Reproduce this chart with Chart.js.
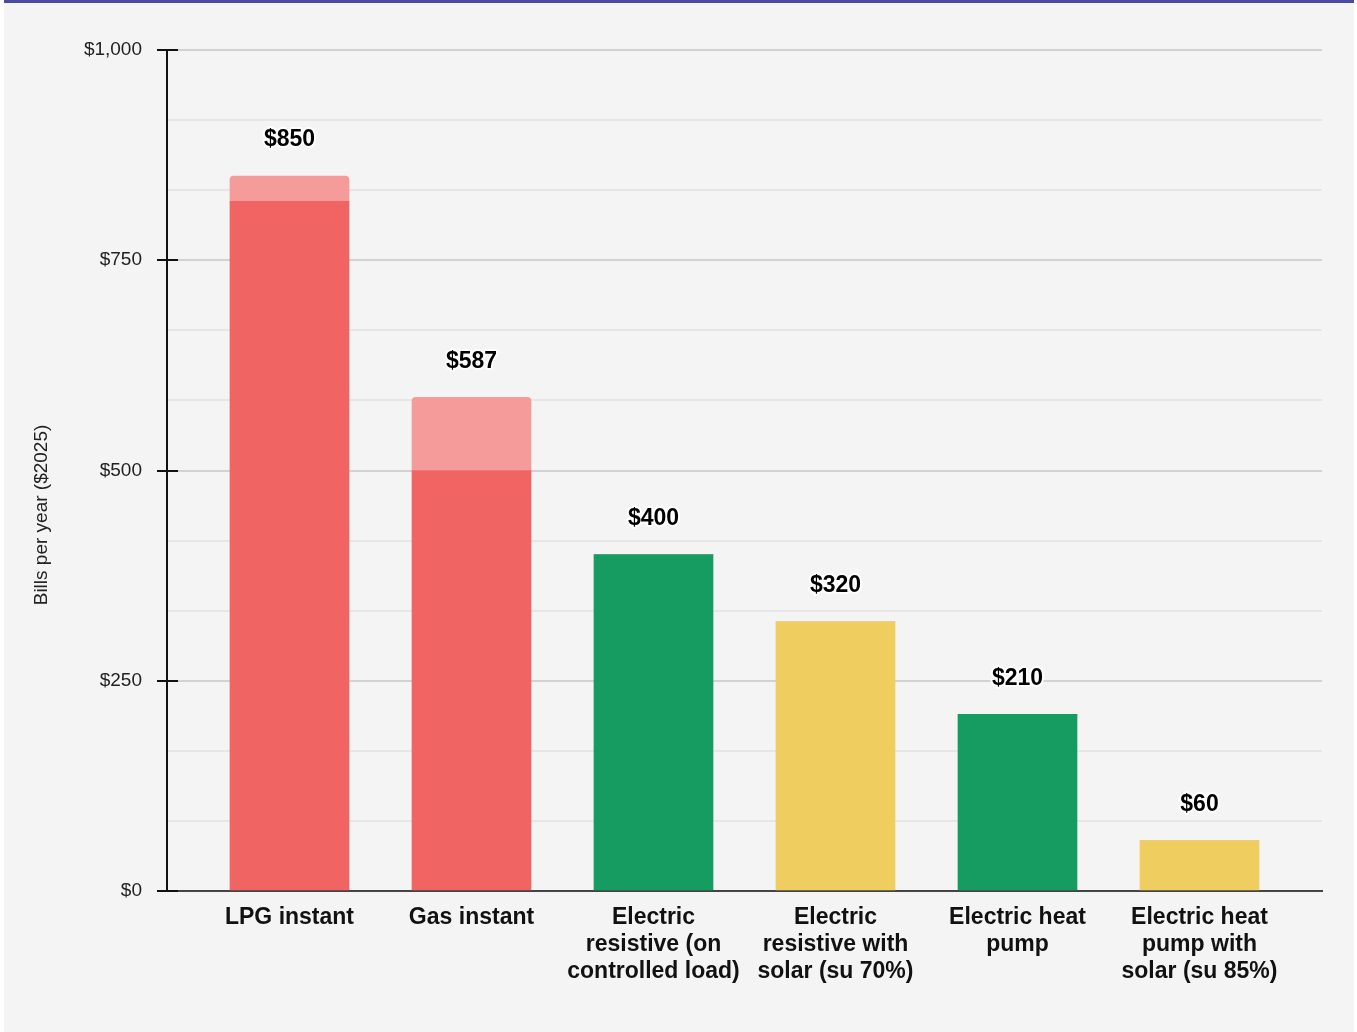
<!DOCTYPE html>
<html>
<head>
<meta charset="utf-8">
<script src="https://cdn.jsdelivr.net/npm/chart.js@4/dist/chart.umd.min.js"></script>
<style>
  html, body { margin: 0; padding: 0; background: #ffffff; }
  .chart-box {
    position: absolute; left: 4px; top: 0; width: 1350px; height: 1032px;
    background: #f4f4f4; border-top: 3px solid #4a4aa3; box-sizing: border-box;
  }
  .chart-box canvas { display: block; }
</style>
</head>
<body>
<div class="chart-box"><canvas id="myChart"></canvas></div>
<script>
// ---- data ----
var categories = [
    'LPG instant',
    'Gas instant',
    ['Electric', 'resistive (on', 'controlled load)'],
    ['Electric', 'resistive with', 'solar (su 70%)'],
    ['Electric heat', 'pump'],
    ['Electric heat', 'pump with', 'solar (su 85%)']
];
var baseBills  = [820, 500, 400, 320, 210, 60];
var extraBills = [30, 87, 0, 0, 0, 0];
var barColors  = ['#f06563', '#f06563', '#169c60', '#efcd5e', '#169c60', '#efcd5e'];
var yTickLabels = [0, 250, 500, 750, 1000];

var RED_LIGHT = '#f59b9a';
var EDGE = 31.5 / 182;   // empty room left/right of the bars, in category units

function toPoints(arr){
    return arr.map(function(v, i){ return {x: i, y: v}; });
}
function isMajor(v){
    return yTickLabels.some(function(t){ return Math.abs(t - v) < 0.01; });
}

// ---- plugins ----
var yTitlePlugin = {
    id: 'yTitle',
    afterDraw: function(chart){
        var ctx = chart.ctx;
        ctx.save();
        ctx.translate(38, 512);
        ctx.rotate(-Math.PI / 2);
        ctx.fillStyle = '#222';
        ctx.font = '19px "Liberation Sans", Arial, sans-serif';
        ctx.textAlign = 'center';
        ctx.textBaseline = 'middle';
        ctx.fillText('Bills per year ($2025)', 0, 0);
        ctx.restore();
    }
};

var innerTicksPlugin = {
    id: 'innerTicks',
    afterDraw: function(chart){
        var ctx = chart.ctx, y = chart.scales.y, left = chart.chartArea.left;
        ctx.save();
        ctx.strokeStyle = '#111';
        ctx.lineWidth = 2;
        yTickLabels.forEach(function(v){
            var py = Math.round(y.getPixelForValue(v));
            ctx.beginPath();
            ctx.moveTo(left, py);
            ctx.lineTo(left + 11, py);
            ctx.stroke();
        });
        ctx.restore();
    }
};

var totalsPlugin = {
    id: 'totals',
    afterDatasetsDraw: function(chart){
        var ctx = chart.ctx, xs = chart.scales.x, ys = chart.scales.y;
        ctx.save();
        ctx.font = 'bold 23px "Liberation Sans", Arial, sans-serif';
        ctx.textAlign = 'center';
        ctx.textBaseline = 'middle';
        ctx.lineJoin = 'round';
        for(let i=0;i<baseBills.length;i++){
            var total = baseBills[i] + extraBills[i];
            var px = xs.getPixelForValue(i);
            var py = ys.getPixelForValue(total) - 36;
            ctx.strokeStyle = '#ffffff';
            ctx.lineWidth = 4;
            ctx.strokeText('$' + total, px, py);
            ctx.fillStyle = '#000';
            ctx.fillText('$' + total, px, py);
        }
        ctx.restore();
    }
};

// ---- chart ----
var canvas = document.getElementById('myChart').getContext('2d');
var myChart = new Chart(canvas, {
    type: 'bar',
    data: {
        datasets: [
            {
                label: 'Bill',
                data: toPoints(baseBills),
                backgroundColor: barColors,
                borderWidth: 0,
                barThickness: 119
            },
            {
                label: 'Extra',
                data: toPoints(extraBills),
                backgroundColor: RED_LIGHT,
                borderWidth: 0,
                borderSkipped: 'bottom',
                borderRadius: {topLeft: 4, topRight: 4},
                barThickness: 119
            }
        ]
    },
    options: {
        responsive: true,
        maintainAspectRatio: false,
        animation: false,
        layout: { padding: { top: 47, right: 32, left: 0, bottom: 0 } },
        plugins: {
            legend: { display: false },
            tooltip: { enabled: false }
        },
        scales: {
            x: {
                type: 'linear',
                stacked: true,
                offset: false,
                bounds: 'data',
                grace: 0,
                min: -0.5 - EDGE,
                max: categories.length - 0.5 + EDGE,
                afterBuildTicks: function(scale){
                    scale.ticks = categories.map(function(_, i){ return {value: i}; });
                },
                afterFit: function(scale){ scale.height = 141; },
                grid: { display: false, drawTicks: false, offset: false },
                border: { display: true, color: '#444', width: 2 },
                ticks: {
                    autoSkip: false,
                    maxRotation: 0,
                    padding: 13,
                    color: '#111',
                    font: { family: '"Liberation Sans", Arial, sans-serif', size: 23, weight: 'bold', lineHeight: 1.17 },
                    callback: function(value){ return categories[value]; }
                }
            },
            y: {
                stacked: true,
                min: 0,
                max: 1000,
                afterBuildTicks: function(scale){
                    var t = [];
                    for(let i=0;i<=12;i++){ t.push({value: i * 1000 / 12}); }
                    scale.ticks = t;
                },
                afterFit: function(scale){ scale.width = 163; },
                border: { display: true, color: '#111', width: 2 },
                grid: {
                    color: function(c){ return isMajor(c.tick.value) ? '#d2d2d2' : '#e6e6e6'; },
                    lineWidth: 2,
                    tickLength: 10,
                    tickColor: function(c){ return isMajor(c.tick.value) ? '#111' : 'rgba(0,0,0,0)'; },
                    tickWidth: 2
                },
                ticks: {
                    padding: 15,
                    color: '#222',
                    font: { family: '"Liberation Sans", Arial, sans-serif', size: 19 },
                    callback: function(value){
                        return isMajor(value) ? '$' + Math.round(value).toLocaleString('en-US') : '';
                    }
                }
            }
        }
    },
    plugins: [yTitlePlugin, innerTicksPlugin, totalsPlugin]
});
</script>
</body>
</html>
